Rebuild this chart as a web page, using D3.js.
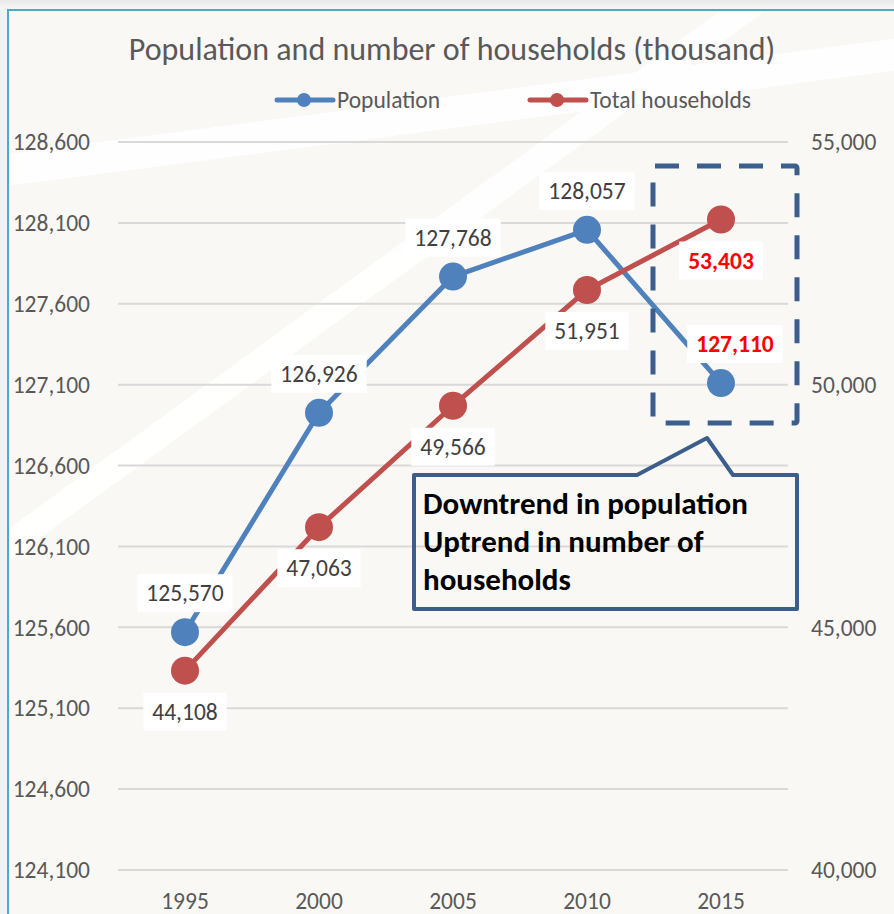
<!DOCTYPE html>
<html>
<head>
<meta charset="utf-8">
<script src="https://cdn.jsdelivr.net/npm/d3@7"></script>
<style>
  body { margin: 0; background: #f1f1f1; }
  svg { display: block; }
  text { font-family: Carlito, Lato, sans-serif; }
</style>
</head>
<body>
<svg id="chart" width="894" height="914"></svg>
<script>
// values
const years = ["1995", "2000", "2005", "2010", "2015"];
const population = [125570, 126926, 127768, 128057, 127110];
const households = [44108, 47063, 49566, 51951, 53403];
const leftTicks = [124100, 124600, 125100, 125600, 126100, 126600, 127100, 127600, 128100, 128600];
const rightTicks = [40000, 45000, 50000, 55000];
const seriesNames = ["Population", "Total households"];
const calloutLines = ["Downtrend in population", "Uptrend in number of", "households"];
const titleText = "Population and number of households (thousand)";

const W = 894, H = 914;
const plot = {left: 118, right: 788, top: 142, bottom: 870};
const blue = "#4f81bd", red = "#c0504d", navy = "#3b5e8c";
const fs = 23.5;
const fmt = d3.format(",");

let svg = d3.select("#chart");

// top shadow above the chart frame
let defs = svg.append("defs");
let grad = defs.append("linearGradient").attr("id", "shade").attr("x1", 0).attr("x2", 0).attr("y1", 0).attr("y2", 1);
grad.append("stop").attr("offset", "0%").attr("stop-color", "#e9e9e9");
grad.append("stop").attr("offset", "100%").attr("stop-color", "#f6f6f6");
svg.append("rect").attr("width", W).attr("height", 9).attr("fill", "url(#shade)");

// chart frame (only left and top edges are visible)
defs.append("clipPath").attr("id", "area")
    .append("rect").attr("x", 7).attr("y", 9).attr("width", W).attr("height", H);
svg.append("rect")
    .attr("x", 7).attr("y", 9).attr("width", W + 10).attr("height", H + 10)
    .attr("fill", "#f9f8f5");

// white diagonal stripes of the background
let stripes = svg.append("g").attr("clip-path", "url(#area)").attr("fill", "#ffffff").attr("opacity", 0.9);
stripes.append("polygon").attr("points", [[0, 155], [W, 155 - 0.13 * W], [W, 187 - 0.13 * W], [0, 187]].join(" "));
stripes.append("polygon").attr("points", [[0, 535], [735, 0], [780, 0], [0, 567]].join(" "));

svg.append("path")
    .attr("d", `M8,${H} V10 H${W}`)
    .attr("fill", "none").attr("stroke", "#4bacc6").attr("stroke-width", 2);

// scales
let x = d3.scaleBand().domain(years).range([plot.left, plot.right]);
let yL = d3.scaleLinear().domain([124100, 128600]).range([plot.bottom, plot.top]);
let yR = d3.scaleLinear().domain([40000, 55000]).range([plot.bottom, plot.top]);
let cx = d => x(d) + x.bandwidth() / 2;

// gridlines
svg.append("g").selectAll("line").data(leftTicks).join("line")
    .attr("x1", plot.left).attr("x2", plot.right)
    .attr("y1", d => yL(d)).attr("y2", d => yL(d))
    .attr("stroke", "#d9d9d9").attr("stroke-width", 2);

// axis labels
svg.append("g").selectAll("text").data(leftTicks).join("text")
    .attr("x", 90).attr("y", d => yL(d)).attr("dy", "0.35em")
    .attr("text-anchor", "end").attr("font-size", fs).attr("fill", "#595959")
    .text(d => fmt(d));
svg.append("g").selectAll("text").data(rightTicks).join("text")
    .attr("x", 811).attr("y", d => yR(d)).attr("dy", "0.35em")
    .attr("font-size", fs).attr("fill", "#595959")
    .text(d => fmt(d));
svg.append("g").selectAll("text").data(years).join("text")
    .attr("x", d => cx(d)).attr("y", 901).attr("dy", "0.35em")
    .attr("text-anchor", "middle").attr("font-size", fs).attr("fill", "#595959")
    .text(d => d);

// series
let series = [
    {name: seriesNames[0], values: population, y: yL, color: blue, dy: -39},
    {name: seriesNames[1], values: households, y: yR, color: red, dy: 41}
];
let line = s => d3.line().x((d, i) => cx(years[i])).y(d => s.y(d));

series.forEach(s => {
    svg.append("path")
        .attr("d", line(s)(s.values))
        .attr("fill", "none").attr("stroke", s.color)
        .attr("stroke-width", 5).attr("stroke-linejoin", "round");
    svg.append("g").selectAll("circle").data(s.values).join("circle")
        .attr("cx", (d, i) => cx(years[i])).attr("cy", d => s.y(d))
        .attr("r", 14).attr("fill", s.color);
});

// data labels on white boxes, last point of each series highlighted
series.forEach((s, k) => {
    s.values.forEach((v, i) => {
        let last = i === s.values.length - 1;
        let lx = cx(years[i]) + (last && k === 0 ? 14 : 0);
        let ly = s.y(v) + s.dy;
        let g = svg.append("g");
        let box = g.append("rect").attr("fill", "#ffffff");
        let t = g.append("text")
            .attr("x", lx).attr("y", ly).attr("dy", "0.35em")
            .attr("text-anchor", "middle").attr("font-size", fs)
            .attr("font-weight", last ? "bold" : "normal")
            .attr("fill", last ? "#ff0000" : "#404040")
            .text(fmt(v));
        let w = t.node().getComputedTextLength();
        box.attr("x", lx - w / 2 - 9).attr("y", ly - 19).attr("width", w + 18).attr("height", 38);
    });
});

// dashed highlight around 2015
svg.append("rect")
    .attr("x", 653).attr("y", 166).attr("width", 144).attr("height", 257).attr("rx", 2)
    .attr("fill", "none").attr("stroke", navy).attr("stroke-width", 5)
    .attr("stroke-dasharray", "24 18");

// callout box with pointer
svg.append("path")
    .attr("d", "M414,475 H637 L707,438 L733,475 H797 V609 H414 Z")
    .attr("fill", "none").attr("stroke", navy).attr("stroke-width", 4)
    .attr("stroke-linejoin", "round");
svg.append("g").selectAll("text").data(calloutLines).join("text")
    .attr("x", 423).attr("y", (d, i) => 514 + i * 38)
    .attr("font-size", 31).attr("font-weight", "bold").attr("fill", "#000000")
    .text(d => d);

// title
svg.append("text")
    .attr("x", 452).attr("y", 60).attr("text-anchor", "middle")
    .attr("font-size", 32).attr("fill", "#595959")
    .text(titleText);

// legend
let legendX = [277, 530];
series.forEach((s, k) => {
    let g = svg.append("g").attr("transform", `translate(${legendX[k]},100)`);
    g.append("line").attr("x1", 0).attr("x2", 56).attr("stroke", s.color)
        .attr("stroke-width", 5).attr("stroke-linecap", "round");
    g.append("circle").attr("cx", 27).attr("r", 7).attr("fill", s.color);
    g.append("text").attr("x", 60).attr("dy", "0.35em")
        .attr("font-size", fs).attr("fill", "#595959").text(s.name);
});
</script>
</body>
</html>
